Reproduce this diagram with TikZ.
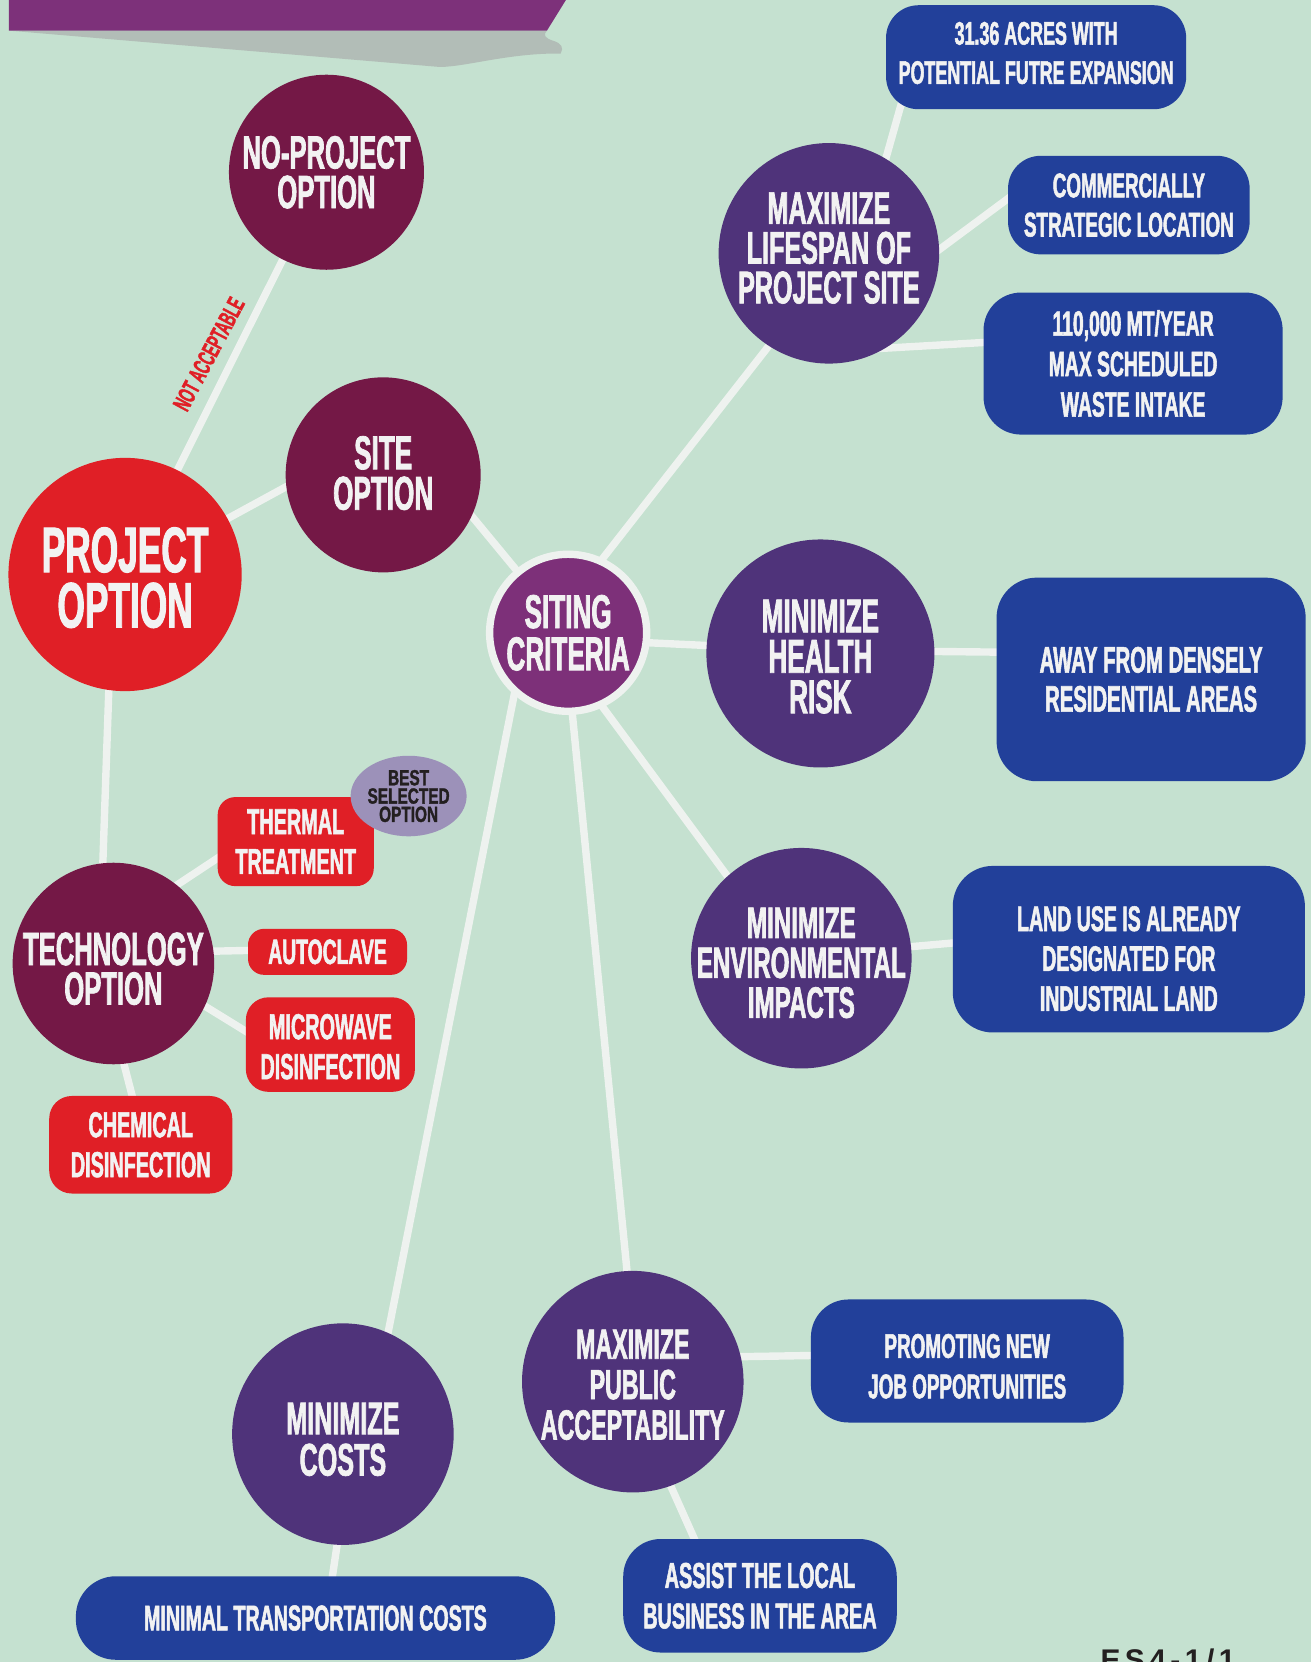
\documentclass[tikz,border=0pt]{standalone}
\usepackage{fontspec}
\newfontfamily\cfont[FakeStretch=0.55,FakeBold=1.5]{Liberation Sans Bold}
\newfontfamily\cfontw[FakeStretch=0.7,FakeBold=1.5]{Liberation Sans Bold}
\newfontfamily\esfont[LetterSpace=15]{Liberation Sans Bold}
\newcommand\myfsz[2]{\fontsize{#1}{#2}\selectfont}
\usetikzlibrary{shapes.geometric,backgrounds}
\definecolor{bgc}{HTML}{C5E1D0}
\definecolor{maroonc}{HTML}{741846}
\definecolor{redc}{HTML}{E01F26}
\definecolor{sitingc}{HTML}{7D3079}
\definecolor{violetc}{HTML}{4F337A}
\definecolor{bluec}{HTML}{22409A}
\definecolor{linec}{HTML}{EEF2EF}
\definecolor{txtw}{HTML}{F2F2F2}
\definecolor{bestc}{HTML}{9C91B9}
\definecolor{darkc}{HTML}{231F20}
\definecolor{grayc}{HTML}{B2BDB7}
\definecolor{bannerc}{HTML}{7D317A}
\begin{document}
\begin{tikzpicture}[x=0.0212cm, y=-0.0212cm,
  circ/.style={circle, inner sep=0pt, minimum size=#1},
  ctext/.style={align=center, text=txtw, inner sep=0pt},
  rbox/.style={rectangle, inner sep=0pt, align=center, text=txtw},
  conn/.style={draw=linec, line width=0.148cm, shorten <=-5pt, shorten >=-5pt},
]
\useasboundingbox (0,0) rectangle (1237,1568);

% ---- circles ----
\node[circ=4.664cm, fill=redc, label={[ctext,font=\cfont\myfsz{36.5}{31.5},yshift=-1.8pt]center:PROJECT\\OPTION}] (project) at (118,542) {};
\node[circ=3.90cm, fill=maroonc, label={[ctext,font=\cfont\myfsz{26.5}{22.5}]center:NO-PROJECT\\OPTION}] (noproj) at (308,162.5) {};
\node[circ=3.90cm, fill=maroonc, label={[ctext,font=\cfont\myfsz{27}{23},yshift=1pt]center:SITE\\OPTION}] (site) at (361.5,448) {};
\node[circ=4.03cm, fill=maroonc, label={[ctext,font=\cfont\myfsz{26.5}{22.5},yshift=-3pt]center:TECHNOLOGY\\OPTION}] (tech) at (107,909) {};
\node[circ=3.14cm, fill=sitingc, draw=linec, line width=0.148cm, label={[ctext,font=\cfont\myfsz{27}{24}]center:SITING\\CRITERIA}] (siting) at (536,597) {};
\node[circ=4.41cm, fill=violetc, label={[ctext,font=\cfont\myfsz{26}{22.6},yshift=3pt]center:MAXIMIZE\\LIFESPAN OF\\PROJECT SITE}] (lifespan) at (782,239) {};
\node[circ=4.56cm, fill=violetc, label={[ctext,font=\cfont\myfsz{27}{23},yshift=-1.8pt]center:MINIMIZE\\HEALTH\\RISK}] (health) at (774,616.5) {};
\node[circ=4.41cm, fill=violetc, label={[ctext,font=\cfont\myfsz{25}{22.7},yshift=-2.7pt]center:MINIMIZE\\ENVIRONMENTAL\\IMPACTS}] (env) at (756,904) {};
\node[circ=4.43cm, fill=violetc, label={[ctext,font=\cfont\myfsz{24}{23},yshift=-1.8pt]center:MAXIMIZE\\PUBLIC\\ACCEPTABILITY}] (public) at (597,1303.5) {};
\node[circ=4.43cm, fill=violetc, label={[ctext,font=\cfont\myfsz{26}{23.5},yshift=-3pt]center:MINIMIZE\\COSTS}] (costs) at (323.5,1353) {};

% ---- blue boxes ----
\node[rbox, fill=bluec, rounded corners=0.65cm, minimum width=6.0cm, minimum height=2.08cm, label={[ctext,font=\cfont\myfsz{18.5}{22.3},yshift=2.4pt]center:31.36 ACRES WITH\\POTENTIAL FUTRE EXPANSION}] (acres) at (977.5,54) {};
\node[rbox, fill=bluec, rounded corners=0.65cm, minimum width=4.83cm, minimum height=1.97cm, font=\cfont\myfsz{19.5}{22.3}] (commercial) at (1065,193.5) {COMMERCIALLY\\STRATEGIC LOCATION};
\node[rbox, fill=bluec, rounded corners=0.75cm, minimum width=5.98cm, minimum height=2.84cm, font=\cfont\myfsz{20}{23}] (intake) at (1069,343) {110,000 MT/YEAR\\MAX SCHEDULED\\WASTE INTAKE};
\node[rbox, fill=bluec, rounded corners=0.8cm, minimum width=6.18cm, minimum height=4.07cm, font=\cfont\myfsz{21}{22.2}] (away) at (1086,641) {AWAY FROM DENSELY\\RESIDENTIAL AREAS};
\node[rbox, fill=bluec, rounded corners=0.8cm, minimum width=7.04cm, minimum height=3.33cm, label={[ctext,font=\cfont\myfsz{20.2}{22.7},yshift=-5.4pt]center:LAND USE IS ALREADY\\DESIGNATED FOR\\INDUSTRIAL LAND}] (land) at (1065,895.5) {};
\node[rbox, fill=bluec, rounded corners=0.75cm, minimum width=6.25cm, minimum height=2.46cm, label={[ctext,font=\cfont\myfsz{19.5}{23},yshift=-3pt]center:PROMOTING NEW\\JOB OPPORTUNITIES}] (promoting) at (912.5,1284) {};
\node[rbox, fill=bluec, rounded corners=0.75cm, minimum width=5.47cm, minimum height=2.27cm, font=\cfont\myfsz{20.5}{23}] (assist) at (717,1505.5) {ASSIST THE LOCAL\\BUSINESS IN THE AREA};
\node[rbox, fill=bluec, rounded corners=0.8cm, minimum width=9.58cm, minimum height=1.67cm, font=\cfont\myfsz{20.3}{23}] (minimal) at (297.6,1526.5) {MINIMAL TRANSPORTATION COSTS};

% ---- red boxes ----
\node[rbox, fill=redc, rounded corners=0.35cm, minimum width=3.12cm, minimum height=1.78cm, font=\cfont\myfsz{20.5}{22.7}] (thermal) at (279,794) {THERMAL\\TREATMENT};
\node[rbox, fill=redc, rounded corners=0.32cm, minimum width=3.18cm, minimum height=0.92cm, font=\cfont\myfsz{20}{22.7}] (autoclave) at (309,898) {AUTOCLAVE};
\node[rbox, fill=redc, rounded corners=0.45cm, minimum width=3.38cm, minimum height=1.89cm, label={[ctext,font=\cfont\myfsz{20.5}{22.7},yshift=-1.2pt]center:MICROWAVE\\DISINFECTION}] (microwave) at (311.7,985.5) {};
\node[rbox, fill=redc, rounded corners=0.45cm, minimum width=3.66cm, minimum height=1.95cm, font=\cfont\myfsz{20.5}{22.7}] (chemical) at (132.8,1080) {CHEMICAL\\DISINFECTION};
\node[ellipse, fill=bestc, inner sep=0pt, minimum width=2.23cm, minimum height=1.61cm, align=center, text=darkc, font=\cfontw\myfsz{12.5}{10.4}] (best) at (385.5,751) {BEST\\SELECTED\\OPTION};

% ---- labels ----
\node[rotate=62, text=redc, inner sep=0pt, font=\cfont\myfsz{14}{14}] (notacc) at (197,334) {NOT ACCEPTABLE};
\node[anchor=north west, inner sep=0pt, text=darkc, font=\esfont\myfsz{17}{17}] (es4) at (1038,1555) {ES4-1/1};

% ---- background, banner, connectors ----
\begin{pgfonlayer}{background}
\fill[bgc] (0,0) rectangle (1237,1568);
\fill[grayc] (8.3,28.9) -- (516,28.9) .. controls (512,33) and (514,36) .. (522,38.5)
  .. controls (530,41) and (532,45) .. (529,50.5)
  .. controls (480,50) and (440,63) .. (415,63.2) -- cycle;
\fill[bannerc] (8.3,-5) -- (537,-5) -- (516,28.9) -- (8.3,28.9) -- cycle;
\draw[conn] (project) -- (noproj);
\draw[conn] (project) -- (site.187);
\draw[conn] (project.262) -- (tech.96);
\draw[conn] (site.335) -- (siting);
\draw[conn] (siting.65) -- (lifespan.237);
\draw[conn] (lifespan.59) -- (acres.201);
\draw[conn] (lifespan.2) -- (commercial.177);
\draw[conn] (lifespan.301) -- (intake.172);
\draw[conn] (siting.353) -- (health.176);
\draw[conn] (health.1) -- (away.170);
\draw[conn] (siting.295) -- (env.132);
\draw[conn] (env.6) -- (land.178);
\draw[conn] (siting.273) -- (public.93);
\draw[conn] (public.13) -- (promoting.178);
\draw[conn] (public.290) -- (assist.139);
\draw[conn] (siting.229) -- (costs.66);
\draw[conn] (costs.267) -- (minimal.68);
\draw[conn] (tech.51) -- (thermal.192);
\draw[conn] (tech.7) -- (autoclave.179);
\draw[conn] (tech.335) -- (microwave.171);
\draw[conn] (tech.276) -- (chemical.100);
\end{pgfonlayer}
\end{tikzpicture}
\end{document}
